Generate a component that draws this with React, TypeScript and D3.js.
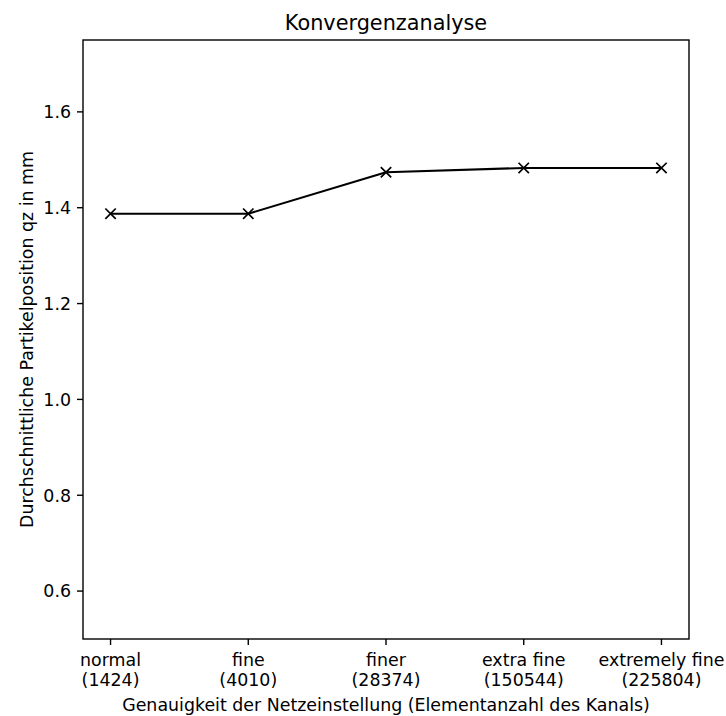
import React from "react";
import * as d3 from "d3";

// Mesh refinement levels and their element counts
const categories = ["normal", "fine", "finer", "extra fine", "extremely fine"];
const elementCounts = ["1424", "4010", "28374", "150544", "225804"];
// Mean particle position qz in mm for each mesh level
const qzValues = [1.3875, 1.3875, 1.474, 1.483, 1.483];
const yTicks = [0.6, 0.8, 1.0, 1.2, 1.4, 1.6];

const W = 726;
const H = 716;
const left = 83;
const right = 689;
const top = 40;
const bottom = 639;
const FONT = "'DejaVu Sans', sans-serif";
const FS = 17.4;

export default function App() {
  const x = d3
    .scalePoint<string>()
    .domain(categories)
    .range([left, right])
    .padding(0.2);
  const y = d3.scaleLinear().domain([0.5, 1.75]).range([bottom, top]);

  const pts = categories.map((c, i) => [x(c)!, y(qzValues[i])] as [number, number]);
  const line = d3.line()(pts) || "";
  const m = 5.2;
  const fmt = d3.format(".1f");

  return (
    <svg
      width={W}
      height={H}
      style={{ position: "absolute", left: 0, top: 0, background: "#fff" }}
      fontFamily={FONT}
    >
      <rect x={0} y={0} width={W} height={H} fill="#fff" />
      <text x={(left + right) / 2} y={29.5} fontSize={20.8} textAnchor="middle" fill="#000">
        Konvergenzanalyse
      </text>

      {/* data line and markers */}
      <path d={line} fill="none" stroke="#000" strokeWidth={2.1} strokeLinejoin="round" />
      {pts.map(([px, py], i) => (
        <path
          key={i}
          d={`M${px - m},${py - m}L${px + m},${py + m}M${px - m},${py + m}L${px + m},${py - m}`}
          stroke="#000"
          strokeWidth={1.7}
        />
      ))}

      {/* frame */}
      <rect x={left} y={top} width={right - left} height={bottom - top} fill="none" stroke="#000" strokeWidth={1.4} />

      {/* y axis */}
      {yTicks.map((t) => (
        <g key={t}>
          <line x1={left - 6} x2={left} y1={y(t)} y2={y(t)} stroke="#000" strokeWidth={1.4} />
          <text x={left - 12} y={y(t)} dy="0.36em" fontSize={FS} textAnchor="end" fill="#000">
            {fmt(t)}
          </text>
        </g>
      ))}
      <text
        transform={`translate(32.5,${(top + bottom) / 2}) rotate(-90)`}
        fontSize={FS}
        textAnchor="middle"
        fill="#000"
      >
        Durchschnittliche Partikelposition qz in mm
      </text>

      {/* x axis */}
      {categories.map((c, i) => (
        <g key={c}>
          <line x1={x(c)} x2={x(c)} y1={bottom} y2={bottom + 6} stroke="#000" strokeWidth={1.4} />
          <text x={x(c)} y={666} fontSize={FS} textAnchor="middle" fill="#000">
            {c}
          </text>
          <text x={x(c)} y={686} fontSize={FS} textAnchor="middle" fill="#000">
            ({elementCounts[i]})
          </text>
        </g>
      ))}
      <text x={(left + right) / 2} y={711} fontSize={FS} textAnchor="middle" fill="#000">
        Genauigkeit der Netzeinstellung (Elementanzahl des Kanals)
      </text>
    </svg>
  );
}
